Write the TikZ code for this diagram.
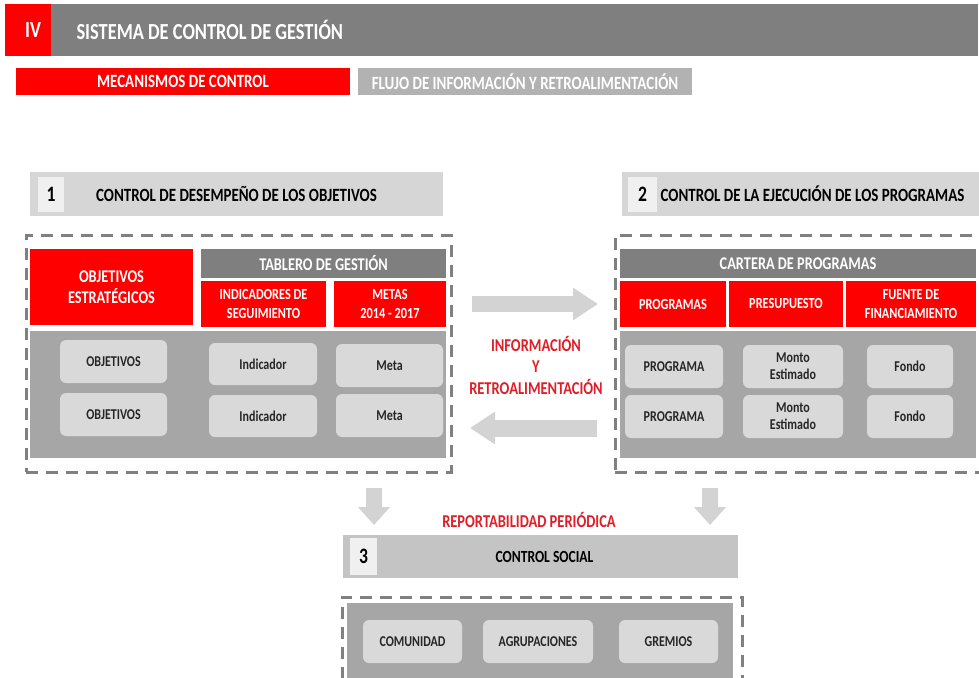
\documentclass[tikz,border=0pt]{standalone}
\usepackage{fontspec}
\setmainfont{Carlito}[FakeStretch=0.8]
\usetikzlibrary{arrows.meta}

\definecolor{ctrlred}{RGB}{255,0,0}
\definecolor{darkgr}{RGB}{127,127,127}
\definecolor{midgr}{RGB}{166,166,166}
\definecolor{lightgr}{RGB}{217,217,217}
\definecolor{bargr}{RGB}{214,214,214}
\definecolor{socialgr}{RGB}{196,196,196}
\definecolor{numgr}{RGB}{240,240,240}
\definecolor{flujogr}{RGB}{178,178,178}
\definecolor{dashgr}{RGB}{128,128,128}
\definecolor{arrowgr}{RGB}{211,211,211}
\definecolor{textred}{RGB}{225,30,40}
\definecolor{textdk}{RGB}{38,38,38}

\tikzset{
  cell/.style={inner sep=0pt, outer sep=0pt, anchor=north west, align=center},
  redcell/.style={cell, fill=ctrlred, text=white},
  darkcell/.style={cell, fill=darkgr, text=white},
  area/.style={cell, fill=midgr},
  item/.style={cell, fill=lightgr, rounded corners=6pt, text=textdk,
    font=\fontsize{15}{17}\selectfont\bfseries},
  secbar/.style={cell, fill=bargr},
  numbox/.style={cell, fill=numgr, text=black,
    font=\fontsize{22}{24}\selectfont\bfseries},
  dashbox/.style={cell, draw=dashgr, line width=3pt, dash pattern=on 12pt off 8pt},
  bigarrow/.style={arrowgr, line width=16pt,
    -{Triangle[length=25pt, width=31pt]}},
  hdrtext/.style={font=\fontsize{23}{25}\selectfont\bfseries},
  tabtext/.style={font=\fontsize{18.7}{21}\selectfont\bfseries},
  headtext/.style={font=\fontsize{17.9}{21}\selectfont\bfseries},
  subtext/.style={font=\fontsize{15.4}{19}\selectfont\bfseries},
  redtext/.style={text=textred, align=center, font=\fontsize{18.1}{21.5}\selectfont\bfseries}
}

\begin{document}
\begin{tikzpicture}[x=1pt, y=-1pt]
\clip (0,0) rectangle (979,677);

% encabezado
\node[redcell, minimum width=46pt, minimum height=52pt] (roman) at (5,4) {};
\node[text=white, hdrtext] (romantext) at ([xshift=5pt]roman.center) {IV};
\node[darkcell, minimum width=927pt, minimum height=52pt] (titlebar) at (51,4) {};
\node[anchor=west, text=white, hdrtext] (title) at ([xshift=22pt]titlebar.west) {SISTEMA DE CONTROL DE GESTIÓN};

\node[redcell, tabtext, minimum width=334pt, minimum height=27pt] (mecanismos) at (16,68) {MECANISMOS DE CONTROL};
\node[cell, fill=flujogr, text=white, tabtext, minimum width=334pt, minimum height=27pt] (flujo) at (358,68) {FLUJO DE INFORMACIÓN Y RETROALIMENTACIÓN};

% 1 control de desempeno
\node[secbar, minimum width=413pt, minimum height=44pt] (bar1) at (30,172) {};
\node[numbox, minimum width=26pt, minimum height=35pt] (num1) at (38,177) {1};
\node[tabtext] (sec1) at (bar1.center) {CONTROL DE DESEMPEÑO DE LOS OBJETIVOS};

\node[dashbox, minimum width=425pt, minimum height=237pt] (box1) at (26,235) {};
\node[redcell, headtext, minimum width=163pt, minimum height=76pt] (objest) at (30,249) {OBJETIVOS\\ESTRATÉGICOS};
\node[darkcell, headtext, minimum width=245pt, minimum height=29pt] (tablero) at (201,249) {TABLERO DE GESTIÓN};
\node[redcell, subtext, minimum width=125pt, minimum height=46pt] (indic) at (201,281) {INDICADORES DE\\SEGUIMIENTO};
\node[redcell, subtext, minimum width=112pt, minimum height=46pt] (metas) at (334,281) {METAS\\2014 - 2017};
\node[area, minimum width=416pt, minimum height=127pt] (area1) at (30,331) {};
\node[item, minimum width=107pt, minimum height=43pt] (obj1) at (60,340) {OBJETIVOS};
\node[item, minimum width=107pt, minimum height=43pt] (obj2) at (60,393) {OBJETIVOS};
\node[item, minimum width=108pt, minimum height=42pt] (ind1) at (209,343) {Indicador};
\node[item, minimum width=108pt, minimum height=42pt] (ind2) at (209,395) {Indicador};
\node[item, minimum width=107pt, minimum height=43pt] (meta1) at (336,344) {Meta};
\node[item, minimum width=107pt, minimum height=43pt] (meta2) at (336,394) {Meta};

% 2 control de la ejecucion
\node[secbar, minimum width=357pt, minimum height=44pt] (bar2) at (622,172) {};
\node[numbox, minimum width=29pt, minimum height=35pt] (num2) at (628,177) {2};
\node[tabtext] (sec2) at ([xshift=12pt]bar2.center) {CONTROL DE LA EJECUCIÓN DE LOS PROGRAMAS};

\node[dashbox, minimum width=380pt, minimum height=237pt] (box2) at (615,235) {};
\node[darkcell, headtext, minimum width=356pt, minimum height=29pt] (cartera) at (620,249) {CARTERA DE PROGRAMAS};
\node[redcell, subtext, minimum width=106pt, minimum height=46pt] (programas) at (620,281) {PROGRAMAS};
\node[redcell, subtext, minimum width=114pt, minimum height=46pt] (presupuesto) at (729,281) {PRESUPUESTO};
\node[redcell, subtext, minimum width=130pt, minimum height=46pt] (fuente) at (846,281) {FUENTE DE\\FINANCIAMIENTO};
\node[area, minimum width=356pt, minimum height=127pt] (area2) at (620,331) {};
\node[item, minimum width=98pt, minimum height=43pt] (prog1) at (625,345) {PROGRAMA};
\node[item, minimum width=98pt, minimum height=43pt] (prog2) at (625,395) {PROGRAMA};
\node[item, minimum width=100pt, minimum height=43pt] (monto1) at (743,345) {Monto\\Estimado};
\node[item, minimum width=100pt, minimum height=43pt] (monto2) at (743,395) {Monto\\Estimado};
\node[item, minimum width=86pt, minimum height=43pt] (fondo1) at (867,345) {Fondo};
\node[item, minimum width=86pt, minimum height=43pt] (fondo2) at (867,395) {Fondo};

% flujo entre 1 y 2
\coordinate (fwdA) at (472,304);
\coordinate (fwdB) at (598,304);
\coordinate (backA) at (597,428);
\coordinate (backB) at (470,428);
\draw[bigarrow] (fwdA) -- (fwdB);
\draw[bigarrow, line width=17pt] (backA) -- (backB);
\node[redtext] (info) at (536,365) {INFORMACIÓN\\Y\\RETROALIMENTACIÓN};

% 3 control social
\coordinate (downA1) at (374,488);
\coordinate (downA2) at (374,525);
\coordinate (downB1) at (710,488);
\coordinate (downB2) at (710,525);
\draw[bigarrow, -{Triangle[length=18pt, width=31pt]}] (downA1) -- (downA2);
\draw[bigarrow, -{Triangle[length=18pt, width=31pt]}] (downB1) -- (downB2);
\node[redtext] (report) at (529,520) {REPORTABILIDAD PERIÓDICA};

\node[secbar, fill=socialgr, minimum width=395pt, minimum height=43pt] (bar3) at (343,535) {};
\node[numbox, minimum width=27pt, minimum height=37pt] (num3) at (350,538) {3};
\node[tabtext, font=\fontsize{17}{19}\selectfont\bfseries] (sec3) at ([xshift=4pt]bar3.center) {CONTROL SOCIAL};

\node[dashbox, minimum width=400pt, minimum height=110pt] (box3) at (342,597) {};
\node[area, minimum width=386pt, minimum height=90pt] (area3) at (347,603) {};
\node[item, minimum width=99pt, minimum height=43pt] (comunidad) at (363,620) {COMUNIDAD};
\node[item, minimum width=110pt, minimum height=43pt] (agrupa) at (483,620) {AGRUPACIONES};
\node[item, minimum width=99pt, minimum height=43pt] (gremios) at (619,620) {GREMIOS};

\end{tikzpicture}
\end{document}
